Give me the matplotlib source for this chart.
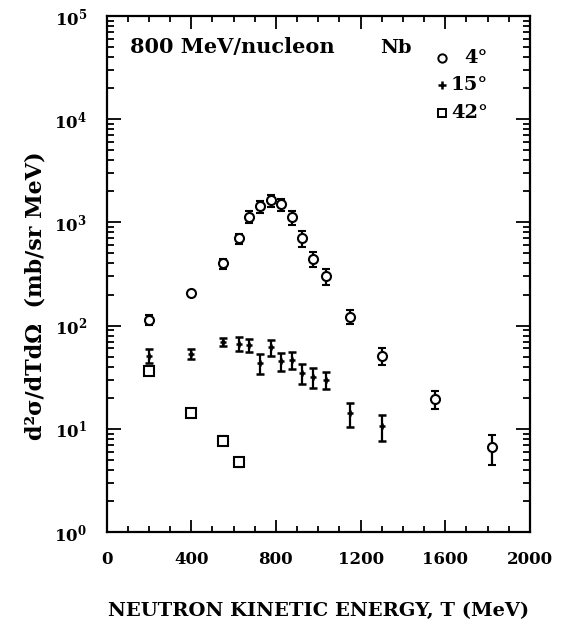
import numpy as np
import matplotlib
matplotlib.use("Agg")
import matplotlib.pyplot as plt
from matplotlib.ticker import FixedLocator, LogLocator, NullFormatter, FuncFormatter

# 4 deg
t_04 = [200, 400, 550, 625, 675, 725, 775, 825, 875, 925, 975, 1035, 1150, 1300, 1550, 1820]
y_04 = [114, 209, 400, 700, 1140, 1430, 1640, 1500, 1120, 700, 445, 300, 122, 51, 19.3, 6.6]
e_04 = [13, 9, 45, 78, 153, 192, 220, 201, 175, 117, 75, 50, 19, 9.1, 3.7, 2.15]

# 15 deg
t_15 = [200, 400, 550, 625, 675, 725, 775, 825, 875, 925, 975, 1035, 1150, 1300]
y_15 = [51, 53, 69, 67, 65, 43.5, 61.5, 45, 46.8, 34.7, 31.7, 29.9, 14.2, 10.7]
e_15 = [8.0, 5.9, 6.1, 10, 9.8, 9.7, 10.6, 9.0, 9.1, 7.8, 7.1, 5.4, 3.7, 3.0]

# 42 deg
t_42 = [200, 400, 550, 625]
y_42 = [36.6, 14.2, 7.7, 4.75]
e_42 = [3.3, 1.3, 0.8, 0.5]

legend_labels = ["4°", "15°", "42°"]

plt.rcParams['font.family'] = ['DejaVu Serif']
plt.rcParams['font.weight'] = 'bold'
plt.rcParams['mathtext.fontset'] = 'dejavuserif'

fig = plt.figure(figsize=(5.65, 6.27), dpi=100)
ax = fig.add_axes([0.1885, 0.1515, 0.7496, 0.823])

eb = dict(ecolor='black', elinewidth=1.6, capsize=3, capthick=1.6, ls='none')
ax.errorbar(t_04, y_04, yerr=e_04, fmt='o', ms=6.5, mfc='white', mec='black', mew=1.5, zorder=3, **eb)
ax.errorbar(t_15, y_15, yerr=e_15, fmt='+', ms=5, mec='black', mew=1.8, **eb)
ax.errorbar(t_42, y_42, yerr=e_42, fmt='s', ms=6.5, mfc='white', mec='black', mew=1.5, **eb)

ax.set_yscale('log')
ax.set_xlim(0, 2000)
ax.set_ylim(1, 1e5)

ax.xaxis.set_major_locator(FixedLocator([0, 400, 800, 1200, 1600, 2000]))
ax.xaxis.set_minor_locator(FixedLocator(np.arange(0, 2001, 100)))
ax.yaxis.set_major_locator(LogLocator(base=10, numticks=10))
ax.yaxis.set_minor_locator(LogLocator(base=10, subs=np.arange(2, 10), numticks=20))
ax.yaxis.set_minor_formatter(NullFormatter())
ax.yaxis.set_major_formatter(FuncFormatter(lambda v, p: r"$\mathbf{10^{%d}}$" % round(np.log10(v))))

ax.tick_params(which='both', direction='in', top=True, right=True, width=1.3, labelsize=12)
ax.tick_params(axis='x', which='major', length=9, pad=14)
ax.tick_params(axis='x', which='minor', length=4.5)
ax.tick_params(axis='y', which='major', length=10, pad=14)
ax.tick_params(axis='y', which='minor', length=5)
for s in ax.spines.values():
    s.set_linewidth(1.6)

ax.set_xlabel("NEUTRON KINETIC ENERGY, T (MeV)", fontsize=14, fontweight='bold', labelpad=24)
fig.text(0.063, 1 - 296 / 627, "d²σ/dTdΩ  (mb/sr MeV)", rotation=90, fontsize=16,
         fontweight='bold', ha='center', va='center')

ax.text(0.055, 0.928, "800 MeV/nucleon", transform=ax.transAxes, fontsize=15, va='baseline')
ax.text(0.645, 0.928, "Nb", transform=ax.transAxes, fontsize=14, va='baseline')

# legend keys drawn by hand so the labels can be right aligned
key_y = [0.919, 0.866, 0.812]
key_fmt = [dict(marker='o', ms=6, mfc='white', mew=1.4),
           dict(marker='+', ms=6, mew=1.8),
           dict(marker='s', ms=6, mfc='white', mew=1.4)]
for yy, lab, kf in zip(key_y, legend_labels, key_fmt):
    ax.plot([0.791], [yy], color='black', ls='none', transform=ax.transAxes, **kf)
    ax.text(0.9, yy, lab, transform=ax.transAxes, fontsize=14, ha='right', va='center')

fig.savefig("out.png", dpi=100)
